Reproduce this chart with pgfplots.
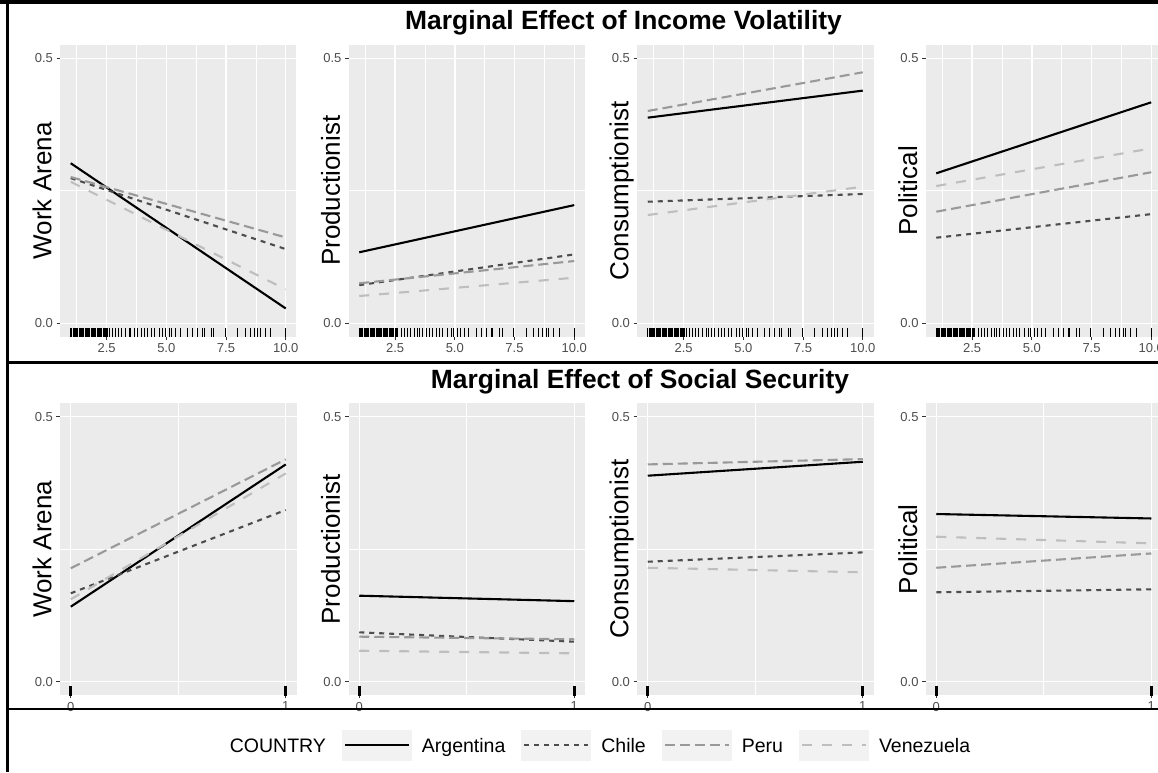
\documentclass[border=0pt]{standalone}
\usepackage{fontspec}
\setmainfont{Liberation Sans}
\usepackage{pgfplots}
\usepackage{pgfplotstable}
\pgfplotsset{compat=1.18}

\definecolor{panelbg}{HTML}{EBEBEB}
\definecolor{tickgray}{HTML}{333333}
\definecolor{labgray}{HTML}{4D4D4D}
\definecolor{cArg}{HTML}{000000}
\definecolor{cChi}{HTML}{4D4D4D}
\definecolor{cPer}{HTML}{999999}
\definecolor{cVen}{HTML}{BEBEBE}
\definecolor{keybg}{HTML}{F2F2F2}

% observed income-volatility values (rug)
\pgfplotstableread{
x y
1.00 -0.017
1.05 -0.017
1.10 -0.017
1.15 -0.017
1.20 -0.017
1.25 -0.017
1.30 -0.017
1.35 -0.017
1.40 -0.017
1.45 -0.017
1.50 -0.017
1.55 -0.017
1.60 -0.017
1.65 -0.017
1.70 -0.017
1.75 -0.017
1.80 -0.017
1.85 -0.017
1.90 -0.017
1.95 -0.017
2.00 -0.017
2.05 -0.017
2.10 -0.017
2.15 -0.017
2.20 -0.017
2.25 -0.017
2.30 -0.017
2.35 -0.017
2.40 -0.017
2.45 -0.017
2.50 -0.017
2.55 -0.017
2.60 -0.017
2.75 -0.017
2.89 -0.017
3.00 -0.017
3.14 -0.017
3.31 -0.017
3.45 -0.017
3.52 -0.017
3.66 -0.017
3.80 -0.017
3.94 -0.017
4.08 -0.017
4.22 -0.017
4.36 -0.017
4.50 -0.017
4.70 -0.017
4.84 -0.017
4.95 -0.017
5.12 -0.017
5.23 -0.017
5.40 -0.017
5.58 -0.017
5.89 -0.017
6.10 -0.017
6.31 -0.017
6.52 -0.017
6.59 -0.017
6.87 -0.017
6.98 -0.017
7.46 -0.017
7.98 -0.017
8.30 -0.017
8.51 -0.017
8.68 -0.017
8.82 -0.017
8.93 -0.017
9.13 -0.017
9.38 -0.017
10.00 -0.017
}\rugtop

\pgfplotstableread{
x y
0 -0.017
1 -0.017
}\rugbot

\tikzset{
  arg/.style={draw=cArg, line width=2.1pt, solid},
  chi/.style={draw=cChi, line width=2.1pt, dash pattern=on 5pt off 5pt},
  per/.style={draw=cPer, line width=2.1pt, dash pattern=on 10pt off 5pt},
  ven/.style={draw=cVen, line width=2.1pt, dash pattern=on 10pt off 10pt},
}

\pgfplotsset{
  panel/.style={
    scale only axis, width=236.5pt, height=291.5pt, anchor=north west,
    axis background/.style={fill=panelbg},
    axis line style={draw=none},
    ymin=-0.025, ymax=0.525, ytick={0,0.5}, minor ytick={0.25},
    grid=both,
    major grid style={white, line width=1.4pt},
    minor grid style={white, line width=0.7pt},
    xtick pos=bottom, ytick pos=left, tick align=outside,
    major tick length=3.5pt, minor tick length=0pt,
    major tick style={tickgray, line width=1pt},
    every tick label/.append style={font=\fontsize{13}{15}\selectfont, text=labgray},
    /pgf/number format/assume math mode=true,
    yticklabel style={/pgf/number format/fixed, /pgf/number format/fixed zerofill, /pgf/number format/precision=1},
    ylabel style={font=\fontsize{26}{30}\selectfont, at={(axis description cs:-0.036,0.5)}, anchor=base, text=black},
  },
  toprow/.style={panel, xmin=0.55, xmax=10.45, xtick={2.5,5,7.5,10},
    minor xtick={1.25,3.75,6.25,8.75},
    xticklabel style={/pgf/number format/fixed, /pgf/number format/fixed zerofill, /pgf/number format/precision=1}},
  botrow/.style={panel, xmin=-0.05, xmax=1.05, xtick={0,1}, minor xtick={0.5}},
  rugT/.style={only marks, mark=|, mark size=4.3pt, black, mark options={line width=0.9pt, draw=black, solid}},
  rugB/.style={only marks, mark=|, mark size=4.8pt, black, mark options={line width=2.6pt, draw=black, solid}},
}

\begin{document}
\begin{tikzpicture}
\useasboundingbox (0pt,0pt) rectangle (1158pt,-772pt);
\clip (0pt,0pt) rectangle (1158pt,-772pt);

% ---------------- income volatility ----------------
\begin{axis}[toprow, at={(60pt,-45.05pt)}, ylabel={Work Arena}]
\addplot[rugT] table {\rugtop};
\addplot[arg] coordinates {(1,0.302) (10,0.028)};
\addplot[chi] coordinates {(1,0.274) (10,0.140)};
\addplot[per] coordinates {(1,0.276) (10,0.162)};
\addplot[ven] coordinates {(1,0.267) (10,0.064)};
\end{axis}

\begin{axis}[toprow, at={(348.5pt,-45.05pt)}, ylabel={Productionist}]
\addplot[rugT] table {\rugtop};
\addplot[arg] coordinates {(1,0.134) (10,0.223)};
\addplot[chi] coordinates {(1,0.072) (10,0.130)};
\addplot[per] coordinates {(1,0.0755) (10,0.1175)};
\addplot[ven] coordinates {(1,0.0515) (10,0.086)};
\end{axis}

\begin{axis}[toprow, at={(637pt,-45.05pt)}, ylabel={Consumptionist}]
\addplot[rugT] table {\rugtop};
\addplot[arg] coordinates {(1,0.388) (10,0.439)};
\addplot[chi] coordinates {(1,0.2294) (10,0.244)};
\addplot[per] coordinates {(1,0.4006) (10,0.4736)};
\addplot[ven] coordinates {(1,0.2043) (10,0.2577)};
\end{axis}

\begin{axis}[toprow, at={(925.5pt,-45.05pt)}, ylabel={Political}]
\addplot[rugT] table {\rugtop};
\addplot[arg] coordinates {(1,0.283) (10,0.417)};
\addplot[chi] coordinates {(1,0.1615) (10,0.206)};
\addplot[per] coordinates {(1,0.2106) (10,0.285)};
\addplot[ven] coordinates {(1,0.259) (10,0.330)};
\end{axis}

% ---------------- social security ----------------
\begin{axis}[botrow, at={(60pt,-403.45pt)}, ylabel={Work Arena}]
\addplot[rugB] table {\rugbot};
\addplot[arg] coordinates {(0,0.1415) (1,0.410)};
\addplot[chi] coordinates {(0,0.1668) (1,0.324)};
\addplot[per] coordinates {(0,0.214) (1,0.4196)};
\addplot[ven] coordinates {(0,0.1555) (1,0.393)};
\end{axis}

\begin{axis}[botrow, at={(348.5pt,-403.45pt)}, ylabel={Productionist}]
\addplot[rugB] table {\rugbot};
\addplot[arg] coordinates {(0,0.1623) (1,0.152)};
\addplot[chi] coordinates {(0,0.0932) (1,0.0755)};
\addplot[per] coordinates {(0,0.085) (1,0.080)};
\addplot[ven] coordinates {(0,0.0585) (1,0.0535)};
\end{axis}

\begin{axis}[botrow, at={(637pt,-403.45pt)}, ylabel={Consumptionist}]
\addplot[rugB] table {\rugbot};
\addplot[arg] coordinates {(0,0.3887) (1,0.415)};
\addplot[chi] coordinates {(0,0.2264) (1,0.244)};
\addplot[per] coordinates {(0,0.410) (1,0.420)};
\addplot[ven] coordinates {(0,0.215) (1,0.2064)};
\end{axis}

\begin{axis}[botrow, at={(925.5pt,-403.45pt)}, ylabel={Political}]
\addplot[rugB] table {\rugbot};
\addplot[arg] coordinates {(0,0.3164) (1,0.308)};
\addplot[chi] coordinates {(0,0.1687) (1,0.1743)};
\addplot[per] coordinates {(0,0.215) (1,0.242)};
\addplot[ven] coordinates {(0,0.2736) (1,0.261)};
\end{axis}

% ---------------- legend ----------------
\begin{axis}[at={(595pt,-745pt)}, anchor=center, hide axis, scale only axis,
  width=10pt, height=10pt, xmin=0, xmax=1, ymin=0, ymax=1,
  legend columns=-1,
  legend style={at={(0.5,0.5)}, anchor=center, draw=none, fill=none,
    font=\fontsize{19.5}{22}\selectfont, nodes={inner sep=0pt},
    /tikz/every odd column/.append style={column sep=10pt},
    /tikz/every even column/.append style={column sep=16pt}},
  legend image code/.code={%
    \path[fill=keybg, draw=none] (0pt,-14pt) rectangle (70pt,17pt);
    \draw[#1] (3pt,1.5pt) -- (67pt,1.5pt);}]
\addlegendimage{empty legend}\addlegendentry{COUNTRY}
\addlegendimage{arg}\addlegendentry{Argentina}
\addlegendimage{chi}\addlegendentry{Chile}
\addlegendimage{per}\addlegendentry{Peru}
\addlegendimage{ven}\addlegendentry{Venezuela}
\end{axis}

% ---------------- titles and frame ----------------
\node[font=\bfseries\fontsize{26.4}{30}\selectfont, anchor=base] at (623.5pt,-29.5pt) {Marginal Effect of Income Volatility};
\node[font=\bfseries\fontsize{26.4}{30}\selectfont, anchor=base] at (640pt,-388pt) {Marginal Effect of Social Security};
\draw[line width=3.5pt] (0pt,-1.75pt) -- (1158pt,-1.75pt);
\draw[line width=3pt] (7.5pt,0pt) -- (7.5pt,-772pt);
\draw[line width=3pt] (7.5pt,-362pt) -- (1158pt,-362pt);
\draw[line width=2pt] (7.5pt,-709pt) -- (1158pt,-709pt);
\end{tikzpicture}
\end{document}
